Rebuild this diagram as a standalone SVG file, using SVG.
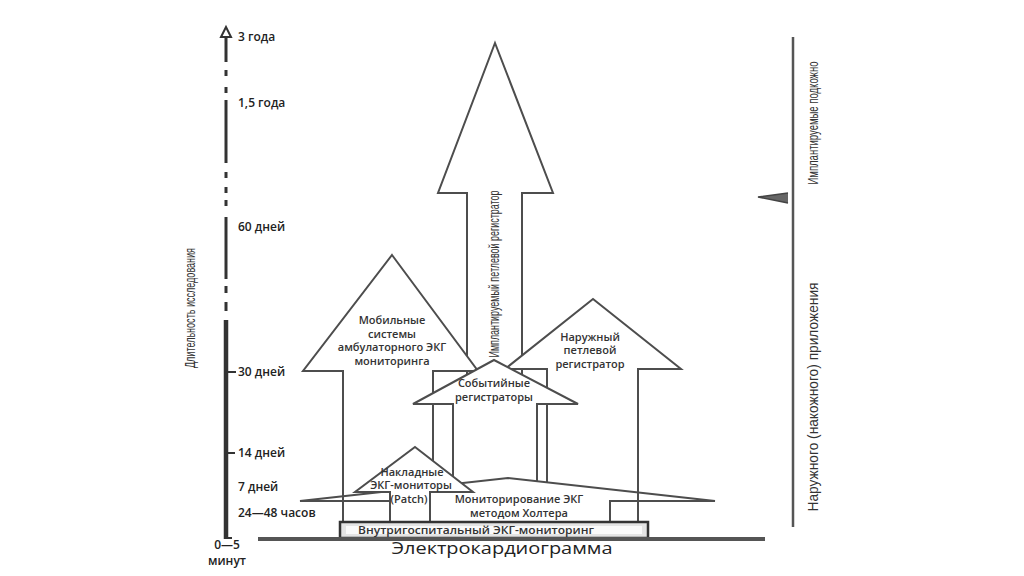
<svg xmlns="http://www.w3.org/2000/svg" width="1024" height="576" viewBox="0 0 1024 576">
<style>
.arrow{fill:#fff;stroke:#4d4d4d;stroke-width:2;stroke-linejoin:miter}
.ln{stroke:#4d4d4d;stroke-width:2;fill:none}
.lbl{font-family:"Open Sans","Liberation Sans",sans-serif;font-weight:600;font-size:11px;fill:#333;text-anchor:middle}
.ax{font-family:"Open Sans","Liberation Sans",sans-serif;font-weight:600;font-size:12px;fill:#222}
.rot{font-family:"Liberation Sans",Arial,sans-serif;font-size:15px;fill:#333;text-anchor:middle}
.axl{stroke:#333;stroke-width:3;fill:none}
</style>
<rect width="1024" height="576" fill="#fff"/>

<g id="axis">
<path d="M226,27 L221,37 L231,37 Z" fill="#fff" stroke="#333" stroke-width="2"/>
<line class="axl" x1="226" y1="37" x2="226" y2="62"/>
<line class="axl" x1="226" y1="70" x2="226" y2="76"/>
<line class="axl" x1="226" y1="87" x2="226" y2="93"/>
<line class="axl" x1="226" y1="100" x2="226" y2="163"/>
<line class="axl" x1="226" y1="172" x2="226" y2="178"/>
<line class="axl" x1="226" y1="187" x2="226" y2="193"/>
<line class="axl" x1="226" y1="200" x2="226" y2="206"/>
<line class="axl" x1="226" y1="217" x2="226" y2="279"/>
<line class="axl" x1="226" y1="286" x2="226" y2="293"/>
<line class="axl" x1="226" y1="302" x2="226" y2="311"/>
<line x1="226" y1="320" x2="226" y2="539" stroke="#333" stroke-width="4.5"/>
<line x1="226" y1="372" x2="236" y2="372" stroke="#333" stroke-width="2"/>
<line x1="226" y1="453" x2="235" y2="453" stroke="#333" stroke-width="2"/>
<line x1="226" y1="538" x2="232" y2="538" stroke="#333" stroke-width="2"/>
<text class="ax" x="238" y="41">3 года</text>
<text class="ax" x="238" y="107">1,5 года</text>
<text class="ax" x="238" y="231">60 дней</text>
<text class="ax" x="238" y="376">30 дней</text>
<text class="ax" x="238" y="457">14 дней</text>
<text class="ax" x="238" y="491">7 дней</text>
<text class="ax" x="238" y="517">24—48 часов</text>
<text class="ax" x="227" y="549" text-anchor="middle" font-size="11.5">0—5</text>
<text class="ax" x="227" y="565" text-anchor="middle" font-size="11.5">минут</text>
<text class="rot" font-size="14.5" transform="translate(195,308) rotate(-90)" textLength="120" lengthAdjust="spacingAndGlyphs">Длительность исследования</text>
</g>

<g id="implant">
<polygon class="arrow" points="495,43 553,193 522,193 522,400 467,400 467,193 438,193"/>
<text class="rot" font-size="14.5" transform="translate(499,274) rotate(-90)" textLength="167" lengthAdjust="spacingAndGlyphs">Имплантируемый петлевой регистратор</text>
</g>

<g id="mobile">
<polygon class="arrow" points="392,255 478,371 433,371 433,523 343,523 343,371 303,371"/>
<text class="lbl" x="392" y="324">Мобильные</text>
<text class="lbl" x="392" y="338">системы</text>
<text class="lbl" x="392" y="351">амбулаторного ЭКГ</text>
<text class="lbl" x="392" y="365">мониторинга</text>
</g>

<g id="external-loop">
<polygon class="arrow" points="593,299 681,369 638,369 638,523 547,523 547,369 505,369"/>
<text class="lbl" x="590" y="341">Наружный</text>
<text class="lbl" x="590" y="354">петлевой</text>
<text class="lbl" x="590" y="368">регистратор</text>
</g>

<g id="event">
<polygon class="arrow" points="494,360 578,404 537,404 537,523 453,523 453,404 413,404"/>
<text class="lbl" x="494" y="387">Событийные</text>
<text class="lbl" x="494" y="401">регистраторы</text>
</g>

<g id="holter">
<polygon class="arrow" points="300,501 508,478 715,501 610,501 610,523 390,523 390,501"/>
<text class="lbl" x="519" y="503" font-size="12">Мониторирование ЭКГ</text>
<text class="lbl" x="519" y="517" font-size="12">методом Холтера</text>
</g>

<g id="patch">
<polygon class="arrow" points="415,447 473,492 430,492 430,523 390,523 390,492 355,492"/>
<text class="lbl" x="412" y="476">Накладные</text>
<text class="lbl" x="411" y="489">ЭКГ-мониторы</text>
<text class="lbl" x="409" y="503">(Patch)</text>
</g>

<g id="connectors">
<line class="ln" x1="343" y1="494" x2="343" y2="503"/>
<line class="ln" x1="638" y1="491" x2="638" y2="503"/>
</g>

<g id="hospital">
<rect x="340" y="522" width="308" height="16" fill="#e4e4e4" stroke="#333" stroke-width="2.5"/>
<rect x="346" y="526" width="296" height="8" fill="#fafafa"/>
<text class="lbl" x="476" y="534" font-weight="400" font-size="12" textLength="236" lengthAdjust="spacingAndGlyphs">Внутригоспитальный ЭКГ-мониторинг</text>
</g>

<g id="ecg">
<line x1="258" y1="539" x2="765" y2="539" stroke="#555" stroke-width="4"/>
<text x="502" y="554" font-family="'Open Sans','Liberation Sans',sans-serif" font-size="16" fill="#222" text-anchor="middle" textLength="221" lengthAdjust="spacingAndGlyphs">Электрокардиограмма</text>
</g>

<g id="placement">
<line x1="793" y1="37" x2="793" y2="527" stroke="#555" stroke-width="2.5"/>
<path d="M788,193 L758,197 L788,203" fill="#666" stroke="#444" stroke-width="1.5"/>
<text class="rot" font-size="16" transform="translate(818,123) rotate(-90)" textLength="123" lengthAdjust="spacingAndGlyphs">Имплантируемые подкожно</text>
<text class="rot" font-size="16" transform="translate(818,397) rotate(-90)" textLength="229" lengthAdjust="spacingAndGlyphs">Наружного (накожного) приложения</text>
</g>
</svg>
